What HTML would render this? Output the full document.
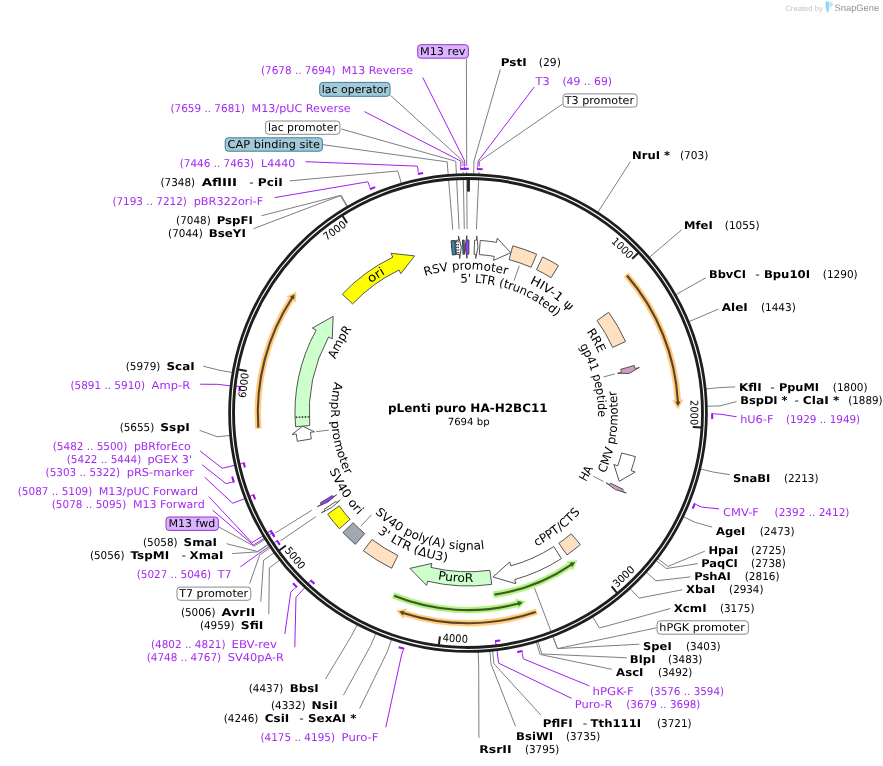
<!DOCTYPE html>
<html lang="en"><head><meta charset="utf-8"><title>pLenti puro HA-H2BC11</title>
<style>html,body{margin:0;padding:0;background:#fff}svg{display:block}text{white-space:pre}</style>
</head><body>
<svg width="883" height="766" viewBox="0 0 883 766" text-rendering="geometricPrecision">
<rect width="883" height="766" fill="#fff"/>
<text x="785.3" y="10.6" font-size="7.6" font-family="'Liberation Sans',sans-serif" fill="#c4c4c4" textLength="37.6" lengthAdjust="spacingAndGlyphs">Created by</text>
<path d="M825.6,1.6 L829.2,1.6 L829.2,8.6 L828.2,12.4 L827.2,12.4 L825.6,7 Z" fill="#8fd6f7"/>
<path d="M829.6,2 L831.4,2 Q833,2.4 833,4.2 Q833,6.4 831,6.8 L829.6,7.4 Z" fill="#b9e6fb"/>
<text x="834.6" y="10.6" font-size="9.4" font-family="'Liberation Sans',sans-serif" fill="#8b929c" textLength="44.6" lengthAdjust="spacingAndGlyphs">SnapGene</text>
<polyline points="289.6,180.9 397.74,170.99 401.42,183.67" fill="none" stroke="#7f7f7f" stroke-width="1" />
<polyline points="261.5,215.7 341.14,195.26 347.78,206.67" fill="none" stroke="#7f7f7f" stroke-width="1" />
<polyline points="253.5,228.7 340.43,195.68 347.11,207.06" fill="none" stroke="#7f7f7f" stroke-width="1" />
<polyline points="203.3,366.2 219.64,370.3 232.65,372.54" fill="none" stroke="#7f7f7f" stroke-width="1" />
<polyline points="199.6,430.3 217.12,436.73 230.26,435.49" fill="none" stroke="#7f7f7f" stroke-width="1" />
<polyline points="226.6,543.7 257.47,551.49 268.5,544.24" fill="none" stroke="#7f7f7f" stroke-width="1" />
<polyline points="232.1,553.6 257.69,551.84 268.71,544.56" fill="none" stroke="#7f7f7f" stroke-width="1" />
<polyline points="260.8,601.8 263.54,560.3 274.25,552.59" fill="none" stroke="#7f7f7f" stroke-width="1" />
<polyline points="268.8,614.2 269.34,568.04 279.75,559.92" fill="none" stroke="#7f7f7f" stroke-width="1" />
<polyline points="325.5,679 351.23,636.31 357.34,624.61" fill="none" stroke="#7f7f7f" stroke-width="1" />
<polyline points="343.4,695.2 370.78,645.49 375.87,633.31" fill="none" stroke="#7f7f7f" stroke-width="1" />
<polyline points="359.6,708.5 387.33,651.74 391.56,639.24" fill="none" stroke="#7f7f7f" stroke-width="1" />
<polyline points="500.4,69.4 473.97,161.07 473.65,174.27" fill="none" stroke="#7f7f7f" stroke-width="1" />
<polyline points="630.4,161.7 604.85,201.4 597.69,212.48" fill="none" stroke="#7f7f7f" stroke-width="1" />
<polyline points="681.7,229.8 659.23,248.88 649.21,257.48" fill="none" stroke="#7f7f7f" stroke-width="1" />
<polyline points="705.9,277.7 687.02,288.37 675.55,294.9" fill="none" stroke="#7f7f7f" stroke-width="1" />
<polyline points="718.4,309.1 700.85,316.64 688.65,321.68" fill="none" stroke="#7f7f7f" stroke-width="1" />
<polyline points="735.3,386.9 718.72,387.63 705.59,388.96" fill="none" stroke="#7f7f7f" stroke-width="1" />
<polyline points="736.6,401.6 719.9,405.9 706.71,406.27" fill="none" stroke="#7f7f7f" stroke-width="1" />
<polyline points="729.85,474.7 712.99,472.02 700.16,468.93" fill="none" stroke="#7f7f7f" stroke-width="1" />
<polyline points="712.1,527.1 695.05,522.33 683.16,516.6" fill="none" stroke="#7f7f7f" stroke-width="1" />
<polyline points="704.8,551.2 667.92,566.41 657.45,558.38" fill="none" stroke="#7f7f7f" stroke-width="1" />
<polyline points="697.8,563.65 666.28,568.53 655.89,560.38" fill="none" stroke="#7f7f7f" stroke-width="1" />
<polyline points="690.3,576.9 655.98,580.83 646.13,572.04" fill="none" stroke="#7f7f7f" stroke-width="1" />
<polyline points="682.3,589.8 638.96,598.14 630,588.44" fill="none" stroke="#7f7f7f" stroke-width="1" />
<polyline points="670.3,608.55 599.45,628 592.57,616.74" fill="none" stroke="#7f7f7f" stroke-width="1" />
<polyline points="639.4,644.2 557.38,648.62 552.7,636.27" fill="none" stroke="#7f7f7f" stroke-width="1" />
<polyline points="626.9,657.8 541.81,653.95 537.94,641.33" fill="none" stroke="#7f7f7f" stroke-width="1" />
<polyline points="611.9,669.3 540.04,654.48 536.26,641.84" fill="none" stroke="#7f7f7f" stroke-width="1" />
<polyline points="540.9,715.1 493.88,663.67 492.53,650.54" fill="none" stroke="#7f7f7f" stroke-width="1" />
<polyline points="515.5,726.3 491.02,663.95 489.81,650.8" fill="none" stroke="#7f7f7f" stroke-width="1" />
<polyline points="478.9,737.8 478.7,664.77 478.14,651.58" fill="none" stroke="#7f7f7f" stroke-width="1" />
<polyline points="322.9,144.7 447.13,161.87 452.76,229.63" fill="none" stroke="#7f7f7f" stroke-width="1" />
<polyline points="341.2,129 455.78,161.3 459.08,229.22" fill="none" stroke="#7f7f7f" stroke-width="1" />
<polyline points="390.5,95.4 462.94,161.05 464.31,229.04" fill="none" stroke="#7f7f7f" stroke-width="1" />
<polyline points="466.4,58.7 466.68,161 467.04,229" fill="none" stroke="#7f7f7f" stroke-width="1" />
<polyline points="562.5,104 479.52,161.26 476.41,229.19" fill="none" stroke="#7f7f7f" stroke-width="1" />
<polyline points="656.6,627.8 557.49,648.58 534.41,587.81" fill="none" stroke="#7f7f7f" stroke-width="1" />
<polyline points="218.9,527 254.06,546.17 311.79,510.23" fill="none" stroke="#7f7f7f" stroke-width="1" />
<polyline points="249.6,583.6 259.75,554.9 315.94,516.61" fill="none" stroke="#7f7f7f" stroke-width="1" />
<polyline points="422.7,77.4 464.71,161.02 464.81,168.82" fill="none" stroke="#a020f0" stroke-width="1" />
<polyline points="364.4,111.6 460.8,161.1 461.02,168.9" fill="none" stroke="#a020f0" stroke-width="1" />
<polyline points="305.5,161.7 417.31,166.15 418.88,173.79" fill="none" stroke="#a020f0" stroke-width="1" />
<polyline points="274.6,197.6 367.75,181.8 370.85,188.95" fill="none" stroke="#a020f0" stroke-width="1" />
<polyline points="200.1,384.2 217.63,384.35 239.79,386.89" fill="none" stroke="#a020f0" stroke-width="1" />
<polyline points="200.1,451 222.12,468.22 243.88,463.33" fill="none" stroke="#a020f0" stroke-width="1" />
<polyline points="202.1,464.7 226.14,483.75 233.62,481.56" fill="none" stroke="#a020f0" stroke-width="1" />
<polyline points="204.6,477.2 232.71,503.25 253.54,495.26" fill="none" stroke="#a020f0" stroke-width="1" />
<polyline points="208.8,496.6 251.88,542.61 271.01,531.14" fill="none" stroke="#a020f0" stroke-width="1" />
<polyline points="212.6,510.1 253.38,545.07 272.37,533.38" fill="none" stroke="#a020f0" stroke-width="1" />
<polyline points="240.4,566.9 258.83,553.55 277.34,541.11" fill="none" stroke="#a020f0" stroke-width="1" />
<polyline points="284.8,634.1 290.79,592.17 296.28,586.62" fill="none" stroke="#a020f0" stroke-width="1" />
<polyline points="294.8,647.3 295.99,597.16 311.21,580.86" fill="none" stroke="#a020f0" stroke-width="1" />
<polyline points="385.8,727.2 401.3,656.01 403.37,648.49" fill="none" stroke="#a020f0" stroke-width="1" />
<polyline points="534.3,86.9 478.08,161.2 477.77,169" fill="none" stroke="#a020f0" stroke-width="1" />
<polyline points="736.6,416.8 720,414.13 712.2,414.1" fill="none" stroke="#a020f0" stroke-width="1" />
<polyline points="719.1,508.9 701.78,507.08 694.54,504.17" fill="none" stroke="#a020f0" stroke-width="1" />
<polyline points="589.5,686 523.32,658.85 521.6,651.24" fill="none" stroke="#a020f0" stroke-width="1" />
<polyline points="571.6,698.4 498.59,663.14 495.88,641" fill="none" stroke="#a020f0" stroke-width="1" />
<path d="M462.01,168.87 A244.2,244.2 0 0 1 470.8,168.82" fill="none" stroke="#fff" stroke-width="5.4"/>
<path d="M458.22,169 A244.2,244.2 0 0 1 468.21,168.8" fill="none" stroke="#fff" stroke-width="5.4"/>
<path d="M416.14,174.37 A244.2,244.2 0 0 1 424.96,172.62" fill="none" stroke="#fff" stroke-width="5.4"/>
<path d="M368.29,190.08 A244.2,244.2 0 0 1 376.93,186.42" fill="none" stroke="#fff" stroke-width="5.4"/>
<path d="M239.15,393.22 A229.7,229.7 0 0 1 240.12,384.11" fill="none" stroke="#fff" stroke-width="5.4"/>
<path d="M245.32,469.34 A229.7,229.7 0 0 1 243.28,460.59" fill="none" stroke="#fff" stroke-width="5.4"/>
<path d="M234.42,484.25 A244.2,244.2 0 0 1 231.71,474.64" fill="none" stroke="#fff" stroke-width="5.4"/>
<path d="M255.9,501.17 A229.7,229.7 0 0 1 252.55,492.64" fill="none" stroke="#fff" stroke-width="5.4"/>
<path d="M274.66,537.02 A229.7,229.7 0 0 1 269.58,528.73" fill="none" stroke="#fff" stroke-width="5.4"/>
<path d="M275.58,538.44 A229.7,229.7 0 0 1 270.92,530.99" fill="none" stroke="#fff" stroke-width="5.4"/>
<path d="M280.97,546.34 A229.7,229.7 0 0 1 275.8,538.78" fill="none" stroke="#fff" stroke-width="5.4"/>
<path d="M298.28,588.58 A244.2,244.2 0 0 1 291.66,581.93" fill="none" stroke="#fff" stroke-width="5.4"/>
<path d="M315.92,585.14 A229.7,229.7 0 0 1 309.17,578.94" fill="none" stroke="#fff" stroke-width="5.4"/>
<path d="M406.07,649.22 A244.2,244.2 0 0 1 396.85,646.6" fill="none" stroke="#fff" stroke-width="5.4"/>
<path d="M474.97,168.9 A244.2,244.2 0 0 1 484.55,169.36" fill="none" stroke="#fff" stroke-width="5.4"/>
<path d="M712.19,411.3 A244.2,244.2 0 0 1 712.07,420.88" fill="none" stroke="#fff" stroke-width="5.4"/>
<path d="M695.57,501.56 A244.2,244.2 0 0 1 691.92,510.43" fill="none" stroke="#fff" stroke-width="5.4"/>
<path d="M524.33,650.61 A244.2,244.2 0 0 1 515.35,652.57" fill="none" stroke="#fff" stroke-width="5.4"/>
<path d="M502.19,640.14 A229.7,229.7 0 0 1 493.1,641.32" fill="none" stroke="#fff" stroke-width="5.4"/>
<circle cx="468" cy="413" r="236.42" fill="none" stroke="#1e1e1e" stroke-width="6.75"/>
<circle cx="468" cy="413" r="236.47" fill="none" stroke="#fafafa" stroke-width="1.1"/>
<path d="M463.91,168.83 A244.2,244.2 0 0 1 468.9,168.8" fill="none" stroke="#9b14f0" stroke-width="2.1"/>
<polyline points="464.36,168.83 464.31,165.83" fill="none" stroke="#a020f0" stroke-width="1" stroke-opacity="0.75"/>
<path d="M460.12,168.93 A244.2,244.2 0 0 1 466.31,168.81" fill="none" stroke="#9b14f0" stroke-width="2.1"/>
<polyline points="460.57,168.91 460.48,165.91" fill="none" stroke="#a020f0" stroke-width="1" stroke-opacity="0.75"/>
<path d="M418,173.97 A244.2,244.2 0 0 1 423.09,172.97" fill="none" stroke="#9b14f0" stroke-width="2.1"/>
<polyline points="418.44,173.88 417.83,170.94" fill="none" stroke="#a020f0" stroke-width="1" stroke-opacity="0.75"/>
<path d="M370.03,189.31 A244.2,244.2 0 0 1 375.17,187.13" fill="none" stroke="#9b14f0" stroke-width="2.1"/>
<polyline points="370.44,189.13 369.24,186.38" fill="none" stroke="#a020f0" stroke-width="1" stroke-opacity="0.75"/>
<path d="M239.32,391.33 A229.7,229.7 0 0 1 239.89,386" fill="none" stroke="#9b14f0" stroke-width="2.1"/>
<polyline points="236.71,386.08 239.84,386.44" fill="none" stroke="#a020f0" stroke-width="1"/>
<path d="M244.86,467.49 A229.7,229.7 0 0 1 243.69,462.45" fill="none" stroke="#9b14f0" stroke-width="2.1"/>
<polyline points="240.71,463.57 243.78,462.89" fill="none" stroke="#a020f0" stroke-width="1"/>
<path d="M233.88,482.43 A244.2,244.2 0 0 1 232.19,476.47" fill="none" stroke="#9b14f0" stroke-width="2.1"/>
<polyline points="233.75,482 230.87,482.84" fill="none" stroke="#a020f0" stroke-width="1" stroke-opacity="0.75"/>
<path d="M255.17,499.41 A229.7,229.7 0 0 1 253.21,494.42" fill="none" stroke="#9b14f0" stroke-width="2.1"/>
<polyline points="250.43,495.96 253.37,494.84" fill="none" stroke="#a020f0" stroke-width="1"/>
<path d="M273.64,535.42 A229.7,229.7 0 0 1 270.55,530.36" fill="none" stroke="#9b14f0" stroke-width="2.1"/>
<polyline points="268.07,532.37 270.78,530.75" fill="none" stroke="#a020f0" stroke-width="1"/>
<path d="M274.55,536.84 A229.7,229.7 0 0 1 271.9,532.61" fill="none" stroke="#9b14f0" stroke-width="2.1"/>
<polyline points="269.45,534.64 272.14,533" fill="none" stroke="#a020f0" stroke-width="1"/>
<path d="M279.87,544.79 A229.7,229.7 0 0 1 276.84,540.36" fill="none" stroke="#9b14f0" stroke-width="2.1"/>
<polyline points="274.48,542.49 277.09,540.74" fill="none" stroke="#a020f0" stroke-width="1"/>
<path d="M296.92,587.26 A244.2,244.2 0 0 1 292.98,583.3" fill="none" stroke="#9b14f0" stroke-width="2.1"/>
<polyline points="296.6,586.94 294.49,589.08" fill="none" stroke="#a020f0" stroke-width="1" stroke-opacity="0.75"/>
<path d="M314.5,583.88 A229.7,229.7 0 0 1 310.55,580.25" fill="none" stroke="#9b14f0" stroke-width="2.1"/>
<polyline points="308.73,582.85 310.88,580.56" fill="none" stroke="#a020f0" stroke-width="1"/>
<path d="M404.24,648.73 A244.2,244.2 0 0 1 398.67,647.15" fill="none" stroke="#9b14f0" stroke-width="2.1"/>
<polyline points="403.8,648.61 403.01,651.51" fill="none" stroke="#a020f0" stroke-width="1" stroke-opacity="0.75"/>
<path d="M476.87,168.96 A244.2,244.2 0 0 1 482.65,169.24" fill="none" stroke="#9b14f0" stroke-width="2.1"/>
<polyline points="477.32,168.98 477.43,165.98" fill="none" stroke="#a020f0" stroke-width="1" stroke-opacity="0.75"/>
<path d="M712.2,413.2 A244.2,244.2 0 0 1 712.13,418.98" fill="none" stroke="#9b14f0" stroke-width="2.1"/>
<polyline points="712.2,413.65 715.2,413.65" fill="none" stroke="#a020f0" stroke-width="1" stroke-opacity="0.75"/>
<path d="M694.88,503.33 A244.2,244.2 0 0 1 692.67,508.68" fill="none" stroke="#9b14f0" stroke-width="2.1"/>
<polyline points="694.71,503.75 697.5,504.86" fill="none" stroke="#a020f0" stroke-width="1" stroke-opacity="0.75"/>
<path d="M522.48,651.05 A244.2,244.2 0 0 1 517.21,652.19" fill="none" stroke="#9b14f0" stroke-width="2.1"/>
<polyline points="522.04,651.15 522.71,654.07" fill="none" stroke="#a020f0" stroke-width="1" stroke-opacity="0.75"/>
<path d="M500.31,640.42 A229.7,229.7 0 0 1 494.99,641.11" fill="none" stroke="#9b14f0" stroke-width="2.1"/>
<polyline points="495.81,644.18 495.43,641.06" fill="none" stroke="#a020f0" stroke-width="1"/>
<rect x="467.1" y="180" width="2.8" height="11.6" fill="#1e1e1e"/>
<polyline points="638.22,253.09 632.14,258.81" fill="none" stroke="#1e1e1e" stroke-width="2" />
<text transform="translate(619.98,250.63) rotate(43.11)" x="0" y="0" text-anchor="middle" font-size="10.6" font-family="'DejaVu Sans Condensed','DejaVu Sans','Liberation Sans',sans-serif" textLength="25.2" lengthAdjust="spacingAndGlyphs">1000</text>
<polyline points="701.09,427.58 692.76,427.06" fill="none" stroke="#1e1e1e" stroke-width="2" />
<text transform="translate(690.4,412.59) rotate(89.9)" x="0" y="0" text-anchor="middle" font-size="10.6" font-family="'DejaVu Sans Condensed','DejaVu Sans','Liberation Sans',sans-serif" textLength="25.2" lengthAdjust="spacingAndGlyphs">2000</text>
<polyline points="616.97,592.87 611.64,586.44" fill="none" stroke="#1e1e1e" stroke-width="2" />
<text transform="translate(626.11,579.21) rotate(316.43)" x="0" y="0" text-anchor="middle" font-size="10.6" font-family="'DejaVu Sans Condensed','DejaVu Sans','Liberation Sans',sans-serif" textLength="25.2" lengthAdjust="spacingAndGlyphs">3000</text>
<polyline points="438.89,644.73 439.94,636.44" fill="none" stroke="#1e1e1e" stroke-width="2" />
<text transform="translate(455.11,642.04) rotate(363.22)" x="0" y="0" text-anchor="middle" font-size="10.6" font-family="'DejaVu Sans Condensed','DejaVu Sans','Liberation Sans',sans-serif" textLength="25.2" lengthAdjust="spacingAndGlyphs">4000</text>
<polyline points="279.18,550.45 285.93,545.53" fill="none" stroke="#1e1e1e" stroke-width="2" />
<text transform="translate(292.24,560.42) rotate(410.01)" x="0" y="0" text-anchor="middle" font-size="10.6" font-family="'DejaVu Sans Condensed','DejaVu Sans','Liberation Sans',sans-serif" textLength="25.2" lengthAdjust="spacingAndGlyphs">5000</text>
<polyline points="238.54,369.48 246.74,371.04" fill="none" stroke="#1e1e1e" stroke-width="2" />
<text transform="translate(247.28,385.69) rotate(277.05)" x="0" y="0" text-anchor="middle" font-size="10.6" font-family="'DejaVu Sans Condensed','DejaVu Sans','Liberation Sans',sans-serif" textLength="25.2" lengthAdjust="spacingAndGlyphs">6000</text>
<polyline points="342.61,215.96 347.09,223.01" fill="none" stroke="#1e1e1e" stroke-width="2" />
<text transform="translate(336.79,233.43) rotate(323.84)" x="0" y="0" text-anchor="middle" font-size="10.6" font-family="'DejaVu Sans Condensed','DejaVu Sans','Liberation Sans',sans-serif" textLength="25.2" lengthAdjust="spacingAndGlyphs">7000</text>
<path d="M451.06,240.83 A173,173 0 0 1 454.73,240.51 L455.82,254.67 A158.8,158.8 0 0 0 452.45,254.96 Z" fill="#2f8ea8" stroke="#333" stroke-width="1" stroke-linejoin="miter"/>
<path d="M455.33,240.46 A173,173 0 0 1 458.64,240.25 L458.41,235.96 L461.34,247.23 L459.63,258.53 L459.41,254.43 A158.8,158.8 0 0 0 456.37,254.63 Z" fill="#ffffff" stroke="#444" stroke-width="1" stroke-linejoin="miter"/>
<polyline points="457.26,253.36 456.45,241.39" fill="none" stroke="#111" stroke-width="1.1" stroke-dasharray="1.2 1.5"/>
<polyline points="458.79,253.27 458.1,241.29" fill="none" stroke="#111" stroke-width="1.1" stroke-dasharray="1.2 1.5"/>
<path d="M462.57,240.09 A173,173 0 0 1 464.08,240.04 L464.4,254.24 A158.8,158.8 0 0 0 463.01,254.28 Z" fill="#2f8ea8" stroke="#333" stroke-width="1" stroke-linejoin="miter"/>
<path d="M468.91,240 A173,173 0 0 0 466.85,240 L466.82,235.7 L465.1,247.13 L466.97,258.3 L466.95,254.2 A158.8,158.8 0 0 1 468.83,254.2 Z" fill="#9933ff" stroke="#444" stroke-width="1" stroke-linejoin="miter"/>
<path d="M474.58,240.13 A173,173 0 0 1 476.54,240.21 L476.75,235.92 L478.01,247.4 L475.64,258.49 L475.84,254.39 A158.8,158.8 0 0 0 474.04,254.31 Z" fill="#ffffff" stroke="#555" stroke-width="1" stroke-linejoin="miter"/>
<path d="M480.22,240.43 A173,173 0 0 1 496.52,242.37 L497.23,238.13 L510.74,252.7 L493.51,260.42 L494.18,256.37 A158.8,158.8 0 0 0 479.22,254.6 Z" fill="#ffffff" stroke="#555" stroke-width="1" stroke-linejoin="miter"/>
<path d="M512.78,245.89 A173,173 0 0 1 536.71,254.23 L531.07,267.26 A158.8,158.8 0 0 0 509.1,259.61 Z" fill="#ffe0c0" stroke="#555" stroke-width="1" stroke-linejoin="miter"/>
<path d="M542.61,256.92 A173,173 0 0 1 558.52,265.57 L551.09,277.67 A158.8,158.8 0 0 0 536.49,269.73 Z" fill="#ffe0c0" stroke="#555" stroke-width="1" stroke-linejoin="miter"/>
<path d="M608.67,312.29 A173,173 0 0 1 625.55,341.53 L612.62,347.4 A158.8,158.8 0 0 0 597.12,320.56 Z" fill="#ffe0c0" stroke="#555" stroke-width="1" stroke-linejoin="miter"/>
<path d="M634.34,365.46 A173,173 0 0 1 635.2,368.59 L639.36,367.49 L629.11,373.43 L617.52,373.29 L621.48,372.23 A158.8,158.8 0 0 0 620.69,369.36 Z" fill="#d19cc0" stroke="#555" stroke-width="1" stroke-linejoin="miter"/>
<path d="M635.41,456.61 A173,173 0 0 1 631.13,470.61 L635.18,472.04 L619.2,481.27 L613.87,464.51 L617.74,465.88 A158.8,158.8 0 0 0 621.67,453.03 Z" fill="#ffffff" stroke="#555" stroke-width="1" stroke-linejoin="miter"/>
<path d="M623.23,489.38 A173,173 0 0 1 622.38,491.07 L626.22,493.01 L615.22,489.48 L606.05,482.81 L609.71,484.66 A158.8,158.8 0 0 0 610.48,483.11 Z" fill="#d19cc0" stroke="#555" stroke-width="1" stroke-linejoin="miter"/>
<path d="M580.35,544.55 A173,173 0 0 1 566.98,554.89 L558.86,543.24 A158.8,158.8 0 0 0 571.13,533.75 Z" fill="#ffe0c0" stroke="#555" stroke-width="1" stroke-linejoin="miter"/>
<path d="M561.46,558.58 A173,173 0 0 1 514.67,579.59 L515.83,583.73 L492.95,577.01 L509.73,561.96 L510.84,565.91 A158.8,158.8 0 0 0 553.79,546.63 Z" fill="#ffffff" stroke="#555" stroke-width="1" stroke-linejoin="miter"/>
<path d="M491.78,584.36 A173,173 0 0 1 427.61,581.22 L426.61,585.4 L409.9,568.39 L431.89,563.43 L430.93,567.41 A158.8,158.8 0 0 0 489.83,570.29 Z" fill="#ccffcc" stroke="#555" stroke-width="1" stroke-linejoin="miter"/>
<path d="M391.62,568.23 A173,173 0 0 1 363.4,550.8 L371.99,539.49 A158.8,158.8 0 0 0 397.89,555.48 Z" fill="#ffe0c0" stroke="#555" stroke-width="1" stroke-linejoin="miter"/>
<path d="M355.42,544.35 A173,173 0 0 1 342.93,532.52 L353.19,522.71 A158.8,158.8 0 0 0 364.66,533.57 Z" fill="#a2a8b2" stroke="#555" stroke-width="1" stroke-linejoin="miter"/>
<path d="M339.44,528.76 A173,173 0 0 1 327.69,514.2 L339.2,505.89 A158.8,158.8 0 0 0 349.99,519.26 Z" fill="#ffff00" stroke="#555" stroke-width="1" stroke-linejoin="miter"/>
<path d="M324.24,509.24 A173,173 0 0 0 325.04,510.43 L321.49,512.85 L331.69,507.56 L340.16,500.12 L336.78,502.43 A158.8,158.8 0 0 1 336.04,501.34 Z" fill="#ffffff" stroke="#555" stroke-width="1" stroke-linejoin="miter"/>
<path d="M320.18,502.88 A173,173 0 0 0 321.09,504.36 L317.44,506.63 L328,502.02 L336.63,494.69 L333.15,496.86 A158.8,158.8 0 0 1 332.31,495.5 Z" fill="#9933ff" stroke="#555" stroke-width="1" stroke-linejoin="miter"/>
<path d="M297.32,441.26 A173,173 0 0 1 296.28,434.01 L292.01,434.53 L302.62,426.16 L314.44,431.79 L310.38,432.28 A158.8,158.8 0 0 0 311.33,438.94 Z" fill="#ffffff" stroke="#555" stroke-width="1" stroke-linejoin="miter"/>
<path d="M295.55,426.72 A173,173 0 0 1 316.15,330.11 L312.38,328.05 L333.16,316.36 L332.21,338.88 L328.62,336.91 A158.8,158.8 0 0 0 309.7,425.6 Z" fill="#ccffcc" stroke="#555" stroke-width="1" stroke-linejoin="miter"/>
<polyline points="309.25,416.88 295.05,417.23" fill="none" stroke="#222" stroke-width="1.4" stroke-dasharray="1.6 1.4"/>
<path d="M342.3,294.13 A173,173 0 0 1 392.84,257.18 L390.97,253.31 L414.67,255.9 L400.79,273.66 L399.01,269.97 A158.8,158.8 0 0 0 352.62,303.89 Z" fill="#ffff00" stroke="#555" stroke-width="1" stroke-linejoin="miter"/>
<polyline points="519.3,265.68 514.14,280.5" fill="none" stroke="#7f7f7f" stroke-width="1" />
<polyline points="614.89,373.92 603.58,376.92" fill="none" stroke="#7f7f7f" stroke-width="1" />
<polyline points="603.67,481.53 593.23,476.26" fill="none" stroke="#7f7f7f" stroke-width="1" />
<polyline points="360.72,526.25 371.51,514.85" fill="none" stroke="#7f7f7f" stroke-width="1" />
<polyline points="316.14,431.65 328.75,430.1" fill="none" stroke="#7f7f7f" stroke-width="1" />
<path id="tp1" d="M326.23,390.16 A143.6,143.6 0 0 1 609.03,385.97" fill="none" stroke="none"/>
<text font-size="12" font-family="'DejaVu Sans','Liberation Sans',sans-serif" fill="#000" text-anchor="middle"><textPath href="#tp1" startOffset="50%" textLength="83" lengthAdjust="spacingAndGlyphs">RSV promoter</textPath></text>
<path id="tp2" d="M354.62,348.59 A130.4,130.4 0 0 1 596.57,434.75" fill="none" stroke="none"/>
<text font-size="12" font-family="'DejaVu Sans','Liberation Sans',sans-serif" fill="#000" text-anchor="middle"><textPath href="#tp2" startOffset="50%" textLength="104.3" lengthAdjust="spacingAndGlyphs">5' LTR (truncated)</textPath></text>
<path id="tp3" d="M366.55,311.37 A143.6,143.6 0 0 1 598.09,473.8" fill="none" stroke="none"/>
<text font-size="12" font-family="'DejaVu Sans','Liberation Sans',sans-serif" fill="#000" text-anchor="middle"><textPath href="#tp3" startOffset="50%" textLength="48.9" lengthAdjust="spacingAndGlyphs">HIV-1 ψ</textPath></text>
<path id="tp4" d="M420.07,277.64 A143.6,143.6 0 0 1 559.34,523.81" fill="none" stroke="none"/>
<text font-size="12" font-family="'DejaVu Sans','Liberation Sans',sans-serif" fill="#000" text-anchor="middle"><textPath href="#tp4" startOffset="50%" textLength="25.2" lengthAdjust="spacingAndGlyphs">RRE</textPath></text>
<path id="tp5" d="M457.57,283.42 A130,130 0 0 1 522.12,531.2" fill="none" stroke="none"/>
<text font-size="12" font-family="'DejaVu Sans','Liberation Sans',sans-serif" fill="#000" text-anchor="middle"><textPath href="#tp5" startOffset="50%" textLength="74.8" lengthAdjust="spacingAndGlyphs">gp41 peptide</textPath></text>
<path id="tp6" d="M474.27,562.67 A149.8,149.8 0 0 0 513.3,270.21" fill="none" stroke="none"/>
<text font-size="12" font-family="'DejaVu Sans','Liberation Sans',sans-serif" fill="#000" text-anchor="middle"><textPath href="#tp6" startOffset="50%" textLength="84.6" lengthAdjust="spacingAndGlyphs">CMV promoter</textPath></text>
<path id="tp7" d="M427.78,543.75 A136.8,136.8 0 0 0 550.52,303.89" fill="none" stroke="none"/>
<text font-size="12" font-family="'DejaVu Sans','Liberation Sans',sans-serif" fill="#000" text-anchor="middle"><textPath href="#tp7" startOffset="50%" textLength="15.6" lengthAdjust="spacingAndGlyphs">HA</textPath></text>
<path id="tp8" d="M367.34,524.21 A150,150 0 0 0 600.63,342.93" fill="none" stroke="none"/>
<text font-size="12" font-family="'DejaVu Sans','Liberation Sans',sans-serif" fill="#000" text-anchor="middle"><textPath href="#tp8" startOffset="50%" textLength="56" lengthAdjust="spacingAndGlyphs">cPPT/CTS</textPath></text>
<path id="tp9" d="M299.85,429.9 A169,169 0 0 0 631.79,454.63" fill="none" stroke="none"/>
<text font-size="12" font-family="'DejaVu Sans','Liberation Sans',sans-serif" fill="#000" text-anchor="middle"><textPath href="#tp9" startOffset="50%" textLength="35.9" lengthAdjust="spacingAndGlyphs">PuroR</textPath></text>
<path id="tp10" d="M332.53,393.96 A136.8,136.8 0 0 0 588.79,477.22" fill="none" stroke="none"/>
<text font-size="12" font-family="'DejaVu Sans','Liberation Sans',sans-serif" fill="#000" text-anchor="middle"><textPath href="#tp10" startOffset="50%" textLength="119.3" lengthAdjust="spacingAndGlyphs">SV40 poly(A) signal</textPath></text>
<path id="tp11" d="M321.61,380.28 A150,150 0 0 0 594.37,493.82" fill="none" stroke="none"/>
<text font-size="12" font-family="'DejaVu Sans','Liberation Sans',sans-serif" fill="#000" text-anchor="middle"><textPath href="#tp11" startOffset="50%" textLength="76.8" lengthAdjust="spacingAndGlyphs">3' LTR (ΔU3)</textPath></text>
<path id="tp12" d="M366.33,302.71 A150,150 0 0 0 525.81,551.41" fill="none" stroke="none"/>
<text font-size="12" font-family="'DejaVu Sans','Liberation Sans',sans-serif" fill="#000" text-anchor="middle"><textPath href="#tp12" startOffset="50%" textLength="53.7" lengthAdjust="spacingAndGlyphs">SV40 ori</textPath></text>
<path id="tp13" d="M428.4,281.85 A137,137 0 0 0 460.35,549.79" fill="none" stroke="none"/>
<text font-size="12" font-family="'DejaVu Sans','Liberation Sans',sans-serif" fill="#000" text-anchor="middle"><textPath href="#tp13" startOffset="50%" textLength="95.7" lengthAdjust="spacingAndGlyphs">AmpR promoter</textPath></text>
<path id="tp14" d="M377.98,524.37 A143.2,143.2 0 0 1 514.5,277.56" fill="none" stroke="none"/>
<text font-size="12" font-family="'DejaVu Sans','Liberation Sans',sans-serif" fill="#000" text-anchor="middle"><textPath href="#tp14" startOffset="50%" textLength="34.8" lengthAdjust="spacingAndGlyphs">AmpR</textPath></text>
<path id="tp15" d="M319.71,478.22 A162,162 0 0 1 585.04,301" fill="none" stroke="none"/>
<text font-size="12" font-family="'DejaVu Sans','Liberation Sans',sans-serif" fill="#000" text-anchor="middle"><textPath href="#tp15" startOffset="50%" textLength="17.7" lengthAdjust="spacingAndGlyphs">ori</textPath></text>
<path d="M626.16,274.54 A210.2,210.2 0 0 1 677.82,400.42" fill="none" stroke="#ffcc80" stroke-width="6.4"/>
<path d="M678.17,409.51 L683.48,399.57 L672.1,400.28 Z" fill="#ffcc80"/>
<path d="M626.95,275.45 A210.2,210.2 0 0 1 677.91,402.02" fill="none" stroke="#5b4526" stroke-width="2.1"/>
<path d="M678.09,406.32 L680.48,401.38 L675.29,401.66 Z" fill="#5b4526"/>
<path d="M536.95,611.57 A210.2,210.2 0 0 1 404.72,613.45" fill="none" stroke="#ffcc80" stroke-width="6.4"/>
<path d="M396.11,610.52 L403.5,619.04 L406.9,608.16 Z" fill="#ffcc80"/>
<path d="M535.82,611.96 A210.2,210.2 0 0 1 403.2,612.96" fill="none" stroke="#5b4526" stroke-width="2.1"/>
<path d="M399.12,611.59 L402.88,615.59 L404.47,610.64 Z" fill="#5b4526"/>
<path d="M258.39,428.76 A210.2,210.2 0 0 1 291.35,299.07" fill="none" stroke="#ffcc80" stroke-width="6.4"/>
<path d="M296.45,291.53 L286.28,296.42 L295.88,302.57 Z" fill="#ffcc80"/>
<path d="M258.31,427.56 A210.2,210.2 0 0 1 292.22,297.73" fill="none" stroke="#5b4526" stroke-width="2.1"/>
<path d="M294.62,294.16 L289.77,296.73 L294.13,299.57 Z" fill="#5b4526"/>
<path d="M493.22,594.76 A183.5,183.5 0 0 0 570.1,565.47" fill="none" stroke="#b3f283" stroke-width="6.4"/>
<path d="M577.54,560.22 L572.85,570.49 L566.53,561 Z" fill="#b3f283"/>
<path d="M494.41,594.59 A183.5,183.5 0 0 0 571.43,564.57" fill="none" stroke="#3b5b25" stroke-width="2.1"/>
<path d="M574.95,562.11 L572.47,567.01 L569.56,562.7 Z" fill="#3b5b25"/>
<path d="M393.05,595.29 A197.1,197.1 0 0 0 517.03,603.9" fill="none" stroke="#b3f283" stroke-width="6.4"/>
<path d="M525.79,601.44 L517.95,609.55 L515.14,598.5 Z" fill="#b3f283"/>
<path d="M394.16,595.75 A197.1,197.1 0 0 0 518.58,603.5" fill="none" stroke="#3b5b25" stroke-width="2.1"/>
<path d="M522.72,602.35 L518.76,606.14 L517.44,601.11 Z" fill="#3b5b25"/>
<text x="261" y="74.2" fill="#a22af0" font-size="10.8" font-family="'DejaVu Sans Condensed','DejaVu Sans','Liberation Sans',sans-serif" textLength="74.5" lengthAdjust="spacingAndGlyphs">(7678 .. 7694)</text>
<text x="341.8" y="74.2" fill="#a22af0" font-size="10.8" font-family="'DejaVu Sans','Liberation Sans',sans-serif" textLength="71.3" lengthAdjust="spacingAndGlyphs">M13 Reverse</text>
<text x="170.5" y="111.8" fill="#a22af0" font-size="10.8" font-family="'DejaVu Sans Condensed','DejaVu Sans','Liberation Sans',sans-serif" textLength="74.5" lengthAdjust="spacingAndGlyphs">(7659 .. 7681)</text>
<text x="251.6" y="111.8" fill="#a22af0" font-size="10.8" font-family="'DejaVu Sans','Liberation Sans',sans-serif" textLength="99.1" lengthAdjust="spacingAndGlyphs">M13/pUC Reverse</text>
<text x="179.7" y="167.2" fill="#a22af0" font-size="10.8" font-family="'DejaVu Sans Condensed','DejaVu Sans','Liberation Sans',sans-serif" textLength="74.5" lengthAdjust="spacingAndGlyphs">(7446 .. 7463)</text>
<text x="261" y="167.2" fill="#a22af0" font-size="10.8" font-family="'DejaVu Sans','Liberation Sans',sans-serif" textLength="34.2" lengthAdjust="spacingAndGlyphs">L4440</text>
<text x="160.5" y="186.1" fill="#000" font-size="10.8" font-family="'DejaVu Sans Condensed','DejaVu Sans','Liberation Sans',sans-serif" textLength="34.6" lengthAdjust="spacingAndGlyphs">(7348)</text>
<text x="201.7" y="186.1" fill="#000" font-size="10.8" font-weight="bold" font-family="'DejaVu Sans','Liberation Sans',sans-serif" textLength="35.3" lengthAdjust="spacingAndGlyphs">AflIII</text>
<text x="249.3" y="186.1" fill="#000" font-size="10.8" font-family="'DejaVu Sans','Liberation Sans',sans-serif" textLength="4.5" lengthAdjust="spacingAndGlyphs">-</text>
<text x="257.8" y="186.1" fill="#000" font-size="10.8" font-weight="bold" font-family="'DejaVu Sans','Liberation Sans',sans-serif" textLength="24.9" lengthAdjust="spacingAndGlyphs">PciI</text>
<text x="112.4" y="205.1" fill="#a22af0" font-size="10.8" font-family="'DejaVu Sans Condensed','DejaVu Sans','Liberation Sans',sans-serif" textLength="74.5" lengthAdjust="spacingAndGlyphs">(7193 .. 7212)</text>
<text x="193.7" y="205.1" fill="#a22af0" font-size="10.8" font-family="'DejaVu Sans','Liberation Sans',sans-serif" textLength="69.5" lengthAdjust="spacingAndGlyphs">pBR322ori-F</text>
<text x="176.1" y="224.2" fill="#000" font-size="10.8" font-family="'DejaVu Sans Condensed','DejaVu Sans','Liberation Sans',sans-serif" textLength="34.6" lengthAdjust="spacingAndGlyphs">(7048)</text>
<text x="216.7" y="224.2" fill="#000" font-size="10.8" font-weight="bold" font-family="'DejaVu Sans','Liberation Sans',sans-serif" textLength="36.1" lengthAdjust="spacingAndGlyphs">PspFI</text>
<text x="168.1" y="236.9" fill="#000" font-size="10.8" font-family="'DejaVu Sans Condensed','DejaVu Sans','Liberation Sans',sans-serif" textLength="34.6" lengthAdjust="spacingAndGlyphs">(7044)</text>
<text x="208.7" y="236.9" fill="#000" font-size="10.8" font-weight="bold" font-family="'DejaVu Sans','Liberation Sans',sans-serif" textLength="37.2" lengthAdjust="spacingAndGlyphs">BseYI</text>
<text x="125.8" y="370" fill="#000" font-size="10.8" font-family="'DejaVu Sans Condensed','DejaVu Sans','Liberation Sans',sans-serif" textLength="34.6" lengthAdjust="spacingAndGlyphs">(5979)</text>
<text x="166.5" y="370" fill="#000" font-size="10.8" font-weight="bold" font-family="'DejaVu Sans','Liberation Sans',sans-serif" textLength="28.2" lengthAdjust="spacingAndGlyphs">ScaI</text>
<text x="70.5" y="389.1" fill="#a22af0" font-size="10.8" font-family="'DejaVu Sans Condensed','DejaVu Sans','Liberation Sans',sans-serif" textLength="74.5" lengthAdjust="spacingAndGlyphs">(5891 .. 5910)</text>
<text x="151.6" y="389.1" fill="#a22af0" font-size="10.8" font-family="'DejaVu Sans','Liberation Sans',sans-serif" textLength="38.6" lengthAdjust="spacingAndGlyphs">Amp-R</text>
<text x="119.7" y="431" fill="#000" font-size="10.8" font-family="'DejaVu Sans Condensed','DejaVu Sans','Liberation Sans',sans-serif" textLength="34.6" lengthAdjust="spacingAndGlyphs">(5655)</text>
<text x="160.3" y="431" fill="#000" font-size="10.8" font-weight="bold" font-family="'DejaVu Sans','Liberation Sans',sans-serif" textLength="29.4" lengthAdjust="spacingAndGlyphs">SspI</text>
<text x="52.8" y="450.3" fill="#a22af0" font-size="10.8" font-family="'DejaVu Sans Condensed','DejaVu Sans','Liberation Sans',sans-serif" textLength="74.5" lengthAdjust="spacingAndGlyphs">(5482 .. 5500)</text>
<text x="133.9" y="450.3" fill="#a22af0" font-size="10.8" font-family="'DejaVu Sans','Liberation Sans',sans-serif" textLength="56.8" lengthAdjust="spacingAndGlyphs">pBRforEco</text>
<text x="66.8" y="463.2" fill="#a22af0" font-size="10.8" font-family="'DejaVu Sans Condensed','DejaVu Sans','Liberation Sans',sans-serif" textLength="74.5" lengthAdjust="spacingAndGlyphs">(5422 .. 5444)</text>
<text x="147.4" y="463.2" fill="#a22af0" font-size="10.8" font-family="'DejaVu Sans','Liberation Sans',sans-serif" textLength="44.8" lengthAdjust="spacingAndGlyphs">pGEX 3'</text>
<text x="45.6" y="475.9" fill="#a22af0" font-size="10.8" font-family="'DejaVu Sans Condensed','DejaVu Sans','Liberation Sans',sans-serif" textLength="74.5" lengthAdjust="spacingAndGlyphs">(5303 .. 5322)</text>
<text x="126.7" y="475.9" fill="#a22af0" font-size="10.8" font-family="'DejaVu Sans','Liberation Sans',sans-serif" textLength="67.3" lengthAdjust="spacingAndGlyphs">pRS-marker</text>
<text x="17.8" y="495.2" fill="#a22af0" font-size="10.8" font-family="'DejaVu Sans Condensed','DejaVu Sans','Liberation Sans',sans-serif" textLength="74.5" lengthAdjust="spacingAndGlyphs">(5087 .. 5109)</text>
<text x="98.7" y="495.2" fill="#a22af0" font-size="10.8" font-family="'DejaVu Sans','Liberation Sans',sans-serif" textLength="99.5" lengthAdjust="spacingAndGlyphs">M13/pUC Forward</text>
<text x="51.8" y="508.1" fill="#a22af0" font-size="10.8" font-family="'DejaVu Sans Condensed','DejaVu Sans','Liberation Sans',sans-serif" textLength="74.5" lengthAdjust="spacingAndGlyphs">(5078 .. 5095)</text>
<text x="132.9" y="508.1" fill="#a22af0" font-size="10.8" font-family="'DejaVu Sans','Liberation Sans',sans-serif" textLength="71.8" lengthAdjust="spacingAndGlyphs">M13 Forward</text>
<text x="143" y="546.1" fill="#000" font-size="10.8" font-family="'DejaVu Sans Condensed','DejaVu Sans','Liberation Sans',sans-serif" textLength="34.6" lengthAdjust="spacingAndGlyphs">(5058)</text>
<text x="183.6" y="546.1" fill="#000" font-size="10.8" font-weight="bold" font-family="'DejaVu Sans','Liberation Sans',sans-serif" textLength="33.4" lengthAdjust="spacingAndGlyphs">SmaI</text>
<text x="89.9" y="558.9" fill="#000" font-size="10.8" font-family="'DejaVu Sans Condensed','DejaVu Sans','Liberation Sans',sans-serif" textLength="34.6" lengthAdjust="spacingAndGlyphs">(5056)</text>
<text x="130.5" y="558.9" fill="#000" font-size="10.8" font-weight="bold" font-family="'DejaVu Sans','Liberation Sans',sans-serif" textLength="38.6" lengthAdjust="spacingAndGlyphs">TspMI</text>
<text x="181.6" y="558.9" fill="#000" font-size="10.8" font-family="'DejaVu Sans','Liberation Sans',sans-serif" textLength="4.5" lengthAdjust="spacingAndGlyphs">-</text>
<text x="189.6" y="558.9" fill="#000" font-size="10.8" font-weight="bold" font-family="'DejaVu Sans','Liberation Sans',sans-serif" textLength="33.7" lengthAdjust="spacingAndGlyphs">XmaI</text>
<text x="136.7" y="578.1" fill="#a22af0" font-size="10.8" font-family="'DejaVu Sans Condensed','DejaVu Sans','Liberation Sans',sans-serif" textLength="74.5" lengthAdjust="spacingAndGlyphs">(5027 .. 5046)</text>
<text x="217.8" y="578.1" fill="#a22af0" font-size="10.8" font-family="'DejaVu Sans','Liberation Sans',sans-serif" textLength="13.7" lengthAdjust="spacingAndGlyphs">T7</text>
<text x="180.9" y="616.2" fill="#000" font-size="10.8" font-family="'DejaVu Sans Condensed','DejaVu Sans','Liberation Sans',sans-serif" textLength="34.6" lengthAdjust="spacingAndGlyphs">(5006)</text>
<text x="221.6" y="616.2" fill="#000" font-size="10.8" font-weight="bold" font-family="'DejaVu Sans','Liberation Sans',sans-serif" textLength="33.6" lengthAdjust="spacingAndGlyphs">AvrII</text>
<text x="199.9" y="629" fill="#000" font-size="10.8" font-family="'DejaVu Sans Condensed','DejaVu Sans','Liberation Sans',sans-serif" textLength="34.6" lengthAdjust="spacingAndGlyphs">(4959)</text>
<text x="240.8" y="629" fill="#000" font-size="10.8" font-weight="bold" font-family="'DejaVu Sans','Liberation Sans',sans-serif" textLength="22.6" lengthAdjust="spacingAndGlyphs">SfiI</text>
<text x="151" y="647.9" fill="#a22af0" font-size="10.8" font-family="'DejaVu Sans Condensed','DejaVu Sans','Liberation Sans',sans-serif" textLength="74.5" lengthAdjust="spacingAndGlyphs">(4802 .. 4821)</text>
<text x="231.5" y="647.9" fill="#a22af0" font-size="10.8" font-family="'DejaVu Sans','Liberation Sans',sans-serif" textLength="45.4" lengthAdjust="spacingAndGlyphs">EBV-rev</text>
<text x="146.7" y="660.9" fill="#a22af0" font-size="10.8" font-family="'DejaVu Sans Condensed','DejaVu Sans','Liberation Sans',sans-serif" textLength="74.5" lengthAdjust="spacingAndGlyphs">(4748 .. 4767)</text>
<text x="227.8" y="660.9" fill="#a22af0" font-size="10.8" font-family="'DejaVu Sans','Liberation Sans',sans-serif" textLength="56.1" lengthAdjust="spacingAndGlyphs">SV40pA-R</text>
<text x="248.8" y="691.7" fill="#000" font-size="10.8" font-family="'DejaVu Sans Condensed','DejaVu Sans','Liberation Sans',sans-serif" textLength="34.6" lengthAdjust="spacingAndGlyphs">(4437)</text>
<text x="289.7" y="691.7" fill="#000" font-size="10.8" font-weight="bold" font-family="'DejaVu Sans','Liberation Sans',sans-serif" textLength="28.9" lengthAdjust="spacingAndGlyphs">BbsI</text>
<text x="271" y="708.7" fill="#000" font-size="10.8" font-family="'DejaVu Sans Condensed','DejaVu Sans','Liberation Sans',sans-serif" textLength="34.6" lengthAdjust="spacingAndGlyphs">(4332)</text>
<text x="311.6" y="708.7" fill="#000" font-size="10.8" font-weight="bold" font-family="'DejaVu Sans','Liberation Sans',sans-serif" textLength="26.2" lengthAdjust="spacingAndGlyphs">NsiI</text>
<text x="223.8" y="721.7" fill="#000" font-size="10.8" font-family="'DejaVu Sans Condensed','DejaVu Sans','Liberation Sans',sans-serif" textLength="34.6" lengthAdjust="spacingAndGlyphs">(4246)</text>
<text x="264.8" y="721.7" fill="#000" font-size="10.8" font-weight="bold" font-family="'DejaVu Sans','Liberation Sans',sans-serif" textLength="24.4" lengthAdjust="spacingAndGlyphs">CsiI</text>
<text x="299.2" y="721.7" fill="#000" font-size="10.8" font-family="'DejaVu Sans','Liberation Sans',sans-serif" textLength="4.5" lengthAdjust="spacingAndGlyphs">-</text>
<text x="307.9" y="721.7" fill="#000" font-size="10.8" font-weight="bold" font-family="'DejaVu Sans','Liberation Sans',sans-serif" textLength="48.6" lengthAdjust="spacingAndGlyphs">SexAI *</text>
<text x="260.5" y="740.6" fill="#a22af0" font-size="10.8" font-family="'DejaVu Sans Condensed','DejaVu Sans','Liberation Sans',sans-serif" textLength="74.5" lengthAdjust="spacingAndGlyphs">(4175 .. 4195)</text>
<text x="341.6" y="740.6" fill="#a22af0" font-size="10.8" font-family="'DejaVu Sans','Liberation Sans',sans-serif" textLength="36.9" lengthAdjust="spacingAndGlyphs">Puro-F</text>
<text x="500.8" y="66.2" fill="#000" font-size="10.8" font-weight="bold" font-family="'DejaVu Sans','Liberation Sans',sans-serif" textLength="25.9" lengthAdjust="spacingAndGlyphs">PstI</text>
<text x="538.7" y="66.2" fill="#000" font-size="10.8" font-family="'DejaVu Sans Condensed','DejaVu Sans','Liberation Sans',sans-serif" textLength="22.2" lengthAdjust="spacingAndGlyphs">(29)</text>
<text x="535.5" y="85.4" fill="#a22af0" font-size="10.8" font-family="'DejaVu Sans','Liberation Sans',sans-serif" textLength="14.1" lengthAdjust="spacingAndGlyphs">T3</text>
<text x="562.4" y="85.4" fill="#a22af0" font-size="10.8" font-family="'DejaVu Sans Condensed','DejaVu Sans','Liberation Sans',sans-serif" textLength="49.6" lengthAdjust="spacingAndGlyphs">(49 .. 69)</text>
<text x="632" y="159.1" fill="#000" font-size="10.8" font-weight="bold" font-family="'DejaVu Sans','Liberation Sans',sans-serif" textLength="38.1" lengthAdjust="spacingAndGlyphs">NruI *</text>
<text x="679.9" y="159.1" fill="#000" font-size="10.8" font-family="'DejaVu Sans Condensed','DejaVu Sans','Liberation Sans',sans-serif" textLength="28.6" lengthAdjust="spacingAndGlyphs">(703)</text>
<text x="684.1" y="229" fill="#000" font-size="10.8" font-weight="bold" font-family="'DejaVu Sans','Liberation Sans',sans-serif" textLength="28.6" lengthAdjust="spacingAndGlyphs">MfeI</text>
<text x="724.8" y="229" fill="#000" font-size="10.8" font-family="'DejaVu Sans Condensed','DejaVu Sans','Liberation Sans',sans-serif" textLength="34.8" lengthAdjust="spacingAndGlyphs">(1055)</text>
<text x="709" y="277.9" fill="#000" font-size="10.8" font-weight="bold" font-family="'DejaVu Sans','Liberation Sans',sans-serif" textLength="36.9" lengthAdjust="spacingAndGlyphs">BbvCI</text>
<text x="755.2" y="277.9" fill="#000" font-size="10.8" font-family="'DejaVu Sans','Liberation Sans',sans-serif" textLength="4.5" lengthAdjust="spacingAndGlyphs">-</text>
<text x="763.9" y="277.9" fill="#000" font-size="10.8" font-weight="bold" font-family="'DejaVu Sans','Liberation Sans',sans-serif" textLength="46.1" lengthAdjust="spacingAndGlyphs">Bpu10I</text>
<text x="822.8" y="277.9" fill="#000" font-size="10.8" font-family="'DejaVu Sans Condensed','DejaVu Sans','Liberation Sans',sans-serif" textLength="34.9" lengthAdjust="spacingAndGlyphs">(1290)</text>
<text x="721.8" y="310.8" fill="#000" font-size="10.8" font-weight="bold" font-family="'DejaVu Sans','Liberation Sans',sans-serif" textLength="25.9" lengthAdjust="spacingAndGlyphs">AleI</text>
<text x="760.9" y="310.8" fill="#000" font-size="10.8" font-family="'DejaVu Sans Condensed','DejaVu Sans','Liberation Sans',sans-serif" textLength="34.9" lengthAdjust="spacingAndGlyphs">(1443)</text>
<text x="739" y="390.7" fill="#000" font-size="10.8" font-weight="bold" font-family="'DejaVu Sans','Liberation Sans',sans-serif" textLength="22.6" lengthAdjust="spacingAndGlyphs">KflI</text>
<text x="770.2" y="390.7" fill="#000" font-size="10.8" font-family="'DejaVu Sans','Liberation Sans',sans-serif" textLength="4.5" lengthAdjust="spacingAndGlyphs">-</text>
<text x="778.9" y="390.7" fill="#000" font-size="10.8" font-weight="bold" font-family="'DejaVu Sans','Liberation Sans',sans-serif" textLength="40.1" lengthAdjust="spacingAndGlyphs">PpuMI</text>
<text x="832.8" y="390.7" fill="#000" font-size="10.8" font-family="'DejaVu Sans Condensed','DejaVu Sans','Liberation Sans',sans-serif" textLength="34.8" lengthAdjust="spacingAndGlyphs">(1800)</text>
<text x="740.2" y="403.6" fill="#000" font-size="10.8" font-weight="bold" font-family="'DejaVu Sans','Liberation Sans',sans-serif" textLength="47.4" lengthAdjust="spacingAndGlyphs">BspDI *</text>
<text x="794.6" y="403.6" fill="#000" font-size="10.8" font-family="'DejaVu Sans','Liberation Sans',sans-serif" textLength="4.5" lengthAdjust="spacingAndGlyphs">-</text>
<text x="802.8" y="403.6" fill="#000" font-size="10.8" font-weight="bold" font-family="'DejaVu Sans','Liberation Sans',sans-serif" textLength="36.7" lengthAdjust="spacingAndGlyphs">ClaI *</text>
<text x="848.2" y="403.6" fill="#000" font-size="10.8" font-family="'DejaVu Sans Condensed','DejaVu Sans','Liberation Sans',sans-serif" textLength="34.4" lengthAdjust="spacingAndGlyphs">(1889)</text>
<text x="740.2" y="422.8" fill="#a22af0" font-size="10.8" font-family="'DejaVu Sans','Liberation Sans',sans-serif" textLength="33.2" lengthAdjust="spacingAndGlyphs">hU6-F</text>
<text x="785.9" y="422.8" fill="#a22af0" font-size="10.8" font-family="'DejaVu Sans Condensed','DejaVu Sans','Liberation Sans',sans-serif" textLength="74.3" lengthAdjust="spacingAndGlyphs">(1929 .. 1949)</text>
<text x="733" y="481.7" fill="#000" font-size="10.8" font-weight="bold" font-family="'DejaVu Sans','Liberation Sans',sans-serif" textLength="37.4" lengthAdjust="spacingAndGlyphs">SnaBI</text>
<text x="783.9" y="481.7" fill="#000" font-size="10.8" font-family="'DejaVu Sans Condensed','DejaVu Sans','Liberation Sans',sans-serif" textLength="34.6" lengthAdjust="spacingAndGlyphs">(2213)</text>
<text x="723" y="515.9" fill="#a22af0" font-size="10.8" font-family="'DejaVu Sans','Liberation Sans',sans-serif" textLength="35.9" lengthAdjust="spacingAndGlyphs">CMV-F</text>
<text x="774.6" y="515.9" fill="#a22af0" font-size="10.8" font-family="'DejaVu Sans Condensed','DejaVu Sans','Liberation Sans',sans-serif" textLength="74.8" lengthAdjust="spacingAndGlyphs">(2392 .. 2412)</text>
<text x="716" y="535.1" fill="#000" font-size="10.8" font-weight="bold" font-family="'DejaVu Sans','Liberation Sans',sans-serif" textLength="29.4" lengthAdjust="spacingAndGlyphs">AgeI</text>
<text x="759.7" y="535.1" fill="#000" font-size="10.8" font-family="'DejaVu Sans Condensed','DejaVu Sans','Liberation Sans',sans-serif" textLength="34.9" lengthAdjust="spacingAndGlyphs">(2473)</text>
<text x="708.4" y="554.2" fill="#000" font-size="10.8" font-weight="bold" font-family="'DejaVu Sans','Liberation Sans',sans-serif" textLength="29.9" lengthAdjust="spacingAndGlyphs">HpaI</text>
<text x="751.1" y="554.2" fill="#000" font-size="10.8" font-family="'DejaVu Sans Condensed','DejaVu Sans','Liberation Sans',sans-serif" textLength="34.6" lengthAdjust="spacingAndGlyphs">(2725)</text>
<text x="701.2" y="566.9" fill="#000" font-size="10.8" font-weight="bold" font-family="'DejaVu Sans','Liberation Sans',sans-serif" textLength="36.6" lengthAdjust="spacingAndGlyphs">PaqCI</text>
<text x="751.1" y="566.9" fill="#000" font-size="10.8" font-family="'DejaVu Sans Condensed','DejaVu Sans','Liberation Sans',sans-serif" textLength="34.6" lengthAdjust="spacingAndGlyphs">(2738)</text>
<text x="694.2" y="579.9" fill="#000" font-size="10.8" font-weight="bold" font-family="'DejaVu Sans','Liberation Sans',sans-serif" textLength="36.6" lengthAdjust="spacingAndGlyphs">PshAI</text>
<text x="744.8" y="579.9" fill="#000" font-size="10.8" font-family="'DejaVu Sans Condensed','DejaVu Sans','Liberation Sans',sans-serif" textLength="34.7" lengthAdjust="spacingAndGlyphs">(2816)</text>
<text x="686" y="592.8" fill="#000" font-size="10.8" font-weight="bold" font-family="'DejaVu Sans','Liberation Sans',sans-serif" textLength="29.3" lengthAdjust="spacingAndGlyphs">XbaI</text>
<text x="729.1" y="592.8" fill="#000" font-size="10.8" font-family="'DejaVu Sans Condensed','DejaVu Sans','Liberation Sans',sans-serif" textLength="34.4" lengthAdjust="spacingAndGlyphs">(2934)</text>
<text x="673.7" y="611.8" fill="#000" font-size="10.8" font-weight="bold" font-family="'DejaVu Sans','Liberation Sans',sans-serif" textLength="32.9" lengthAdjust="spacingAndGlyphs">XcmI</text>
<text x="719.9" y="611.8" fill="#000" font-size="10.8" font-family="'DejaVu Sans Condensed','DejaVu Sans','Liberation Sans',sans-serif" textLength="34.6" lengthAdjust="spacingAndGlyphs">(3175)</text>
<text x="643.1" y="649.7" fill="#000" font-size="10.8" font-weight="bold" font-family="'DejaVu Sans','Liberation Sans',sans-serif" textLength="28.6" lengthAdjust="spacingAndGlyphs">SpeI</text>
<text x="686" y="649.7" fill="#000" font-size="10.8" font-family="'DejaVu Sans Condensed','DejaVu Sans','Liberation Sans',sans-serif" textLength="34.6" lengthAdjust="spacingAndGlyphs">(3403)</text>
<text x="629.8" y="662.7" fill="#000" font-size="10.8" font-weight="bold" font-family="'DejaVu Sans','Liberation Sans',sans-serif" textLength="25.7" lengthAdjust="spacingAndGlyphs">BlpI</text>
<text x="668" y="662.7" fill="#000" font-size="10.8" font-family="'DejaVu Sans Condensed','DejaVu Sans','Liberation Sans',sans-serif" textLength="34.4" lengthAdjust="spacingAndGlyphs">(3483)</text>
<text x="616.1" y="675.9" fill="#000" font-size="10.8" font-weight="bold" font-family="'DejaVu Sans','Liberation Sans',sans-serif" textLength="27.4" lengthAdjust="spacingAndGlyphs">AscI</text>
<text x="658" y="675.9" fill="#000" font-size="10.8" font-family="'DejaVu Sans Condensed','DejaVu Sans','Liberation Sans',sans-serif" textLength="34.4" lengthAdjust="spacingAndGlyphs">(3492)</text>
<text x="592.6" y="694.7" fill="#a22af0" font-size="10.8" font-family="'DejaVu Sans','Liberation Sans',sans-serif" textLength="41.1" lengthAdjust="spacingAndGlyphs">hPGK-F</text>
<text x="650" y="694.7" fill="#a22af0" font-size="10.8" font-family="'DejaVu Sans Condensed','DejaVu Sans','Liberation Sans',sans-serif" textLength="74.1" lengthAdjust="spacingAndGlyphs">(3576 .. 3594)</text>
<text x="574.7" y="707.6" fill="#a22af0" font-size="10.8" font-family="'DejaVu Sans','Liberation Sans',sans-serif" textLength="37.8" lengthAdjust="spacingAndGlyphs">Puro-R</text>
<text x="626.3" y="707.6" fill="#a22af0" font-size="10.8" font-family="'DejaVu Sans Condensed','DejaVu Sans','Liberation Sans',sans-serif" textLength="74.1" lengthAdjust="spacingAndGlyphs">(3679 .. 3698)</text>
<text x="542.8" y="726.6" fill="#000" font-size="10.8" font-weight="bold" font-family="'DejaVu Sans','Liberation Sans',sans-serif" textLength="29.9" lengthAdjust="spacingAndGlyphs">PflFI</text>
<text x="582.7" y="726.6" fill="#000" font-size="10.8" font-family="'DejaVu Sans','Liberation Sans',sans-serif" textLength="4.5" lengthAdjust="spacingAndGlyphs">-</text>
<text x="590.6" y="726.6" fill="#000" font-size="10.8" font-weight="bold" font-family="'DejaVu Sans','Liberation Sans',sans-serif" textLength="50.6" lengthAdjust="spacingAndGlyphs">Tth111I</text>
<text x="657" y="726.6" fill="#000" font-size="10.8" font-family="'DejaVu Sans Condensed','DejaVu Sans','Liberation Sans',sans-serif" textLength="34.6" lengthAdjust="spacingAndGlyphs">(3721)</text>
<text x="516.1" y="739.5" fill="#000" font-size="10.8" font-weight="bold" font-family="'DejaVu Sans','Liberation Sans',sans-serif" textLength="37.1" lengthAdjust="spacingAndGlyphs">BsiWI</text>
<text x="566" y="739.5" fill="#000" font-size="10.8" font-family="'DejaVu Sans Condensed','DejaVu Sans','Liberation Sans',sans-serif" textLength="34.3" lengthAdjust="spacingAndGlyphs">(3735)</text>
<text x="479.3" y="752.5" fill="#000" font-size="10.8" font-weight="bold" font-family="'DejaVu Sans','Liberation Sans',sans-serif" textLength="32.3" lengthAdjust="spacingAndGlyphs">RsrII</text>
<text x="524.9" y="752.5" fill="#000" font-size="10.8" font-family="'DejaVu Sans Condensed','DejaVu Sans','Liberation Sans',sans-serif" textLength="34.5" lengthAdjust="spacingAndGlyphs">(3795)</text>
<rect x="417.7" y="44.7" width="50.7" height="13.5" rx="3.2" ry="3.2" fill="#dcb3ff" stroke="#9933cc" stroke-width="1"/>
<text x="420" y="54.9" fill="#000" font-size="10.8" font-family="'DejaVu Sans','Liberation Sans',sans-serif" textLength="45.5" lengthAdjust="spacingAndGlyphs">M13 rev</text>
<rect x="319.7" y="82.4" width="70.3" height="13.9" rx="3.2" ry="3.2" fill="#a3c9d6" stroke="#3a8096" stroke-width="1"/>
<text x="321.8" y="92.8" fill="#000" font-size="10.8" font-family="'DejaVu Sans','Liberation Sans',sans-serif" textLength="66.2" lengthAdjust="spacingAndGlyphs">lac operator</text>
<rect x="265.6" y="121" width="74.3" height="13.3" rx="3.2" ry="3.2" fill="#ffffff" stroke="#8a8a8a" stroke-width="1"/>
<text x="267.9" y="131" fill="#000" font-size="10.8" font-family="'DejaVu Sans','Liberation Sans',sans-serif" textLength="70" lengthAdjust="spacingAndGlyphs">lac promoter</text>
<rect x="225.2" y="137.8" width="97.2" height="13.4" rx="3.2" ry="3.2" fill="#a3c9d6" stroke="#3a8096" stroke-width="1"/>
<text x="227.6" y="147.9" fill="#000" font-size="10.8" font-family="'DejaVu Sans','Liberation Sans',sans-serif" textLength="92.4" lengthAdjust="spacingAndGlyphs">CAP binding site</text>
<rect x="166" y="517" width="52.4" height="13.4" rx="3.2" ry="3.2" fill="#dcb3ff" stroke="#9933cc" stroke-width="1"/>
<text x="168.4" y="526.9" fill="#000" font-size="10.8" font-family="'DejaVu Sans','Liberation Sans',sans-serif" textLength="46.9" lengthAdjust="spacingAndGlyphs">M13 fwd</text>
<rect x="177" y="587.1" width="73.8" height="13.2" rx="3.2" ry="3.2" fill="#ffffff" stroke="#8a8a8a" stroke-width="1"/>
<text x="179.2" y="597.3" fill="#000" font-size="10.8" font-family="'DejaVu Sans','Liberation Sans',sans-serif" textLength="69" lengthAdjust="spacingAndGlyphs">T7 promoter</text>
<rect x="563" y="93.9" width="74.1" height="13.2" rx="3.2" ry="3.2" fill="#ffffff" stroke="#8a8a8a" stroke-width="1"/>
<text x="564.7" y="104.1" fill="#000" font-size="10.8" font-family="'DejaVu Sans','Liberation Sans',sans-serif" textLength="69.3" lengthAdjust="spacingAndGlyphs">T3 promoter</text>
<rect x="657.1" y="620.8" width="91.3" height="13.4" rx="3.2" ry="3.2" fill="#ffffff" stroke="#8a8a8a" stroke-width="1"/>
<text x="659.3" y="631" fill="#000" font-size="10.8" font-family="'DejaVu Sans','Liberation Sans',sans-serif" textLength="85.5" lengthAdjust="spacingAndGlyphs">hPGK promoter</text>
<text x="388" y="411.8" fill="#000" font-size="11.6" font-weight="bold" font-family="'DejaVu Sans','Liberation Sans',sans-serif" textLength="159.7" lengthAdjust="spacingAndGlyphs">pLenti puro HA-H2BC11</text>
<text x="447.7" y="424.7" fill="#000" font-size="9.8" font-family="'DejaVu Sans Condensed','DejaVu Sans','Liberation Sans',sans-serif" textLength="41.95" lengthAdjust="spacingAndGlyphs">7694 bp</text>
</svg>
</body></html>
